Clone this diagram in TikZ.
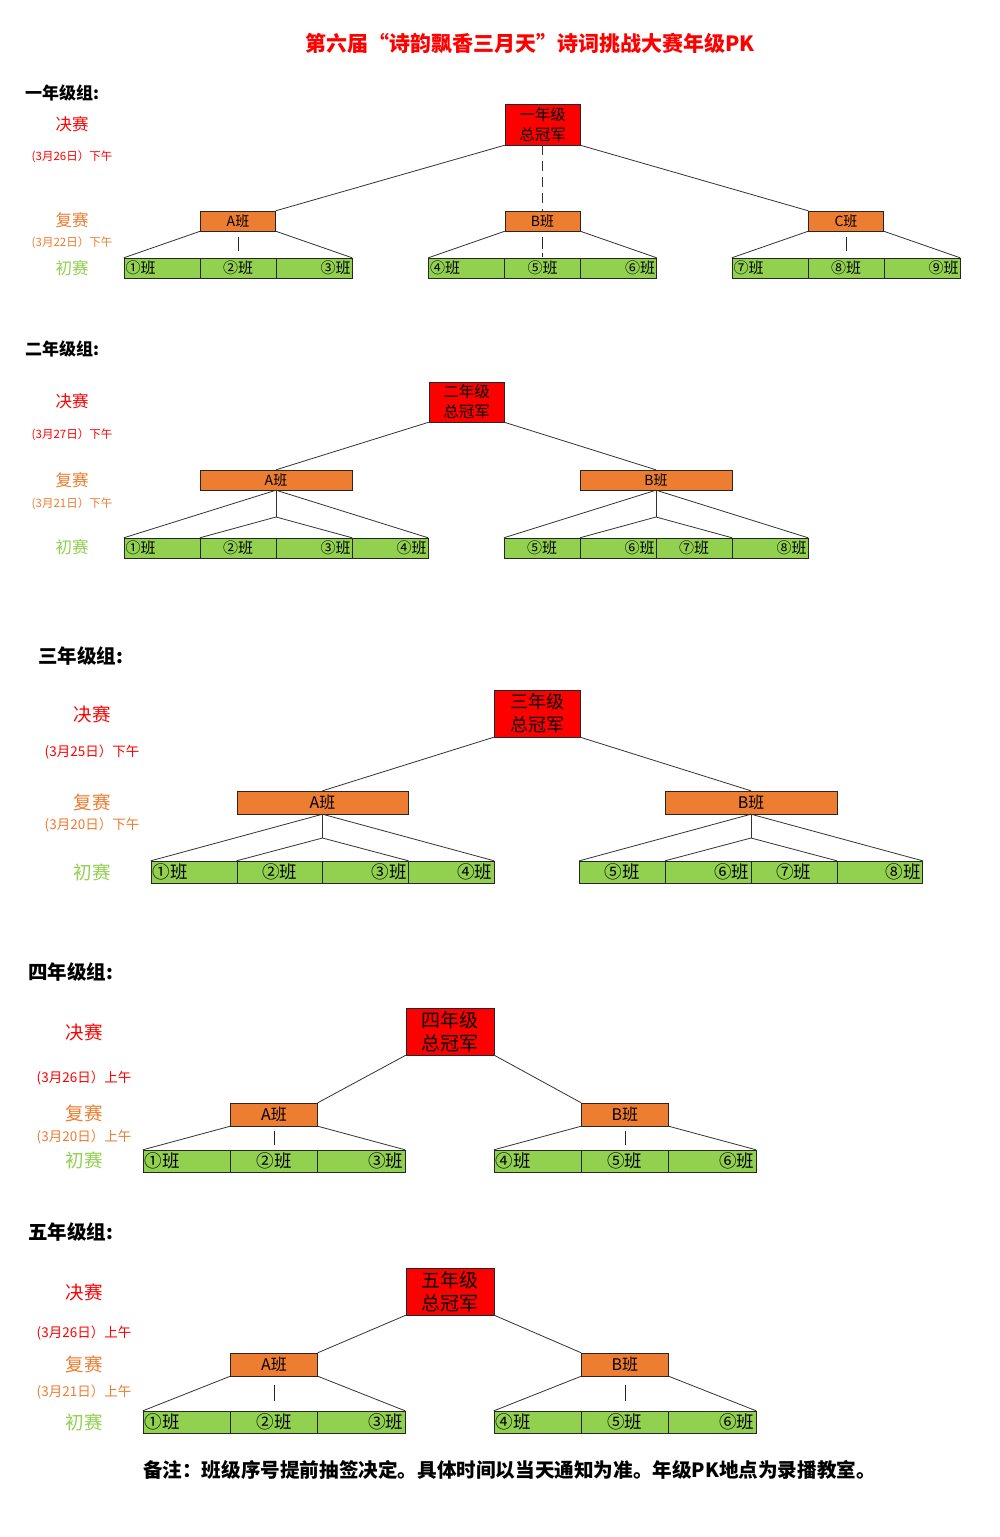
\documentclass[tikz,border=0pt]{standalone}
\usepackage{fontspec}
\setmainfont{Noto Sans CJK SC}
\definecolor{boxred}{HTML}{FF0000}
\definecolor{boxorange}{HTML}{ED7D31}
\definecolor{boxgreen}{HTML}{92D050}
\tikzset{
	sz/.style={font=\fontsize{#1}{#1}\selectfont},
	csz/.style 2 args={font=\fontsize{#1}{#2}\selectfont},
	title/.style={text=boxred, font=\bfseries\fontsize{21}{21}\selectfont, inner sep=0pt},
	grade/.style={anchor=west, font=\bfseries\fontsize{#1}{#1}\selectfont, inner sep=0pt},
	stagelbl/.style 2 args={text=#1, font=\fontsize{#2}{#2}\selectfont, inner sep=0pt},
	champ/.style={draw=black!85, fill=boxred, inner sep=0pt, align=center},
	semi/.style={draw=black!85, fill=boxorange, inner sep=0pt},
	cell/.style 2 args={draw=black!85, fill=boxgreen, inner ysep=0pt, inner xsep=1.5pt, text width=#1, align=#2},
	link/.style={line width=0.8pt, black!80},
	tick/.style={line width=0.8pt, black!85},
}
\begin{document}
\begin{tikzpicture}[x=1pt,y=-1pt]
	\useasboundingbox[fill=white] (0,0) rectangle (1000,1537);

	\node[title] (title) at (530,44) {第六届“诗韵飘香三月天”诗词挑战大赛年级PK};

	\node[grade=17] (g1name) at (25,93) {一年级组:};
	\node[stagelbl={boxred}{16.5}] (g1fin) at (72,124) {决赛};
	\node[stagelbl={boxred}{11.5}] (g1findate) at (72,157) {(3月26日）下午};
	\node[stagelbl={boxorange}{16.5}] (g1semi) at (72,220) {复赛};
	\node[stagelbl={boxorange}{11.5}] (g1semidate) at (72,243) {(3月22日）下午};
	\node[stagelbl={boxgreen}{16.5}] (g1first) at (72,268) {初赛};

	\node[champ, minimum width=75, minimum height=41, csz={15.5}{20}] (g1champ) at (542.5,124.5) {一年级\\总冠军};
	\node[semi, minimum width=75, minimum height=20, sz=14] (g1a) at (238,221) {A班};
	\node[semi, minimum width=75, minimum height=20, sz=14] (g1b) at (542.5,221) {B班};
	\node[semi, minimum width=75, minimum height=20, sz=14] (g1c) at (846,221) {C班};

	\node[cell={73}{left}, minimum height=20, sz=15] (g1c1) at (162,268) {①班};
	\node[cell={73}{center}, minimum height=20, sz=15] (g1c2) at (238,268) {②班};
	\node[cell={73}{right}, minimum height=20, sz=15] (g1c3) at (314,268) {③班};
	\node[cell={73}{left}, minimum height=20, sz=15] (g1c4) at (466.5,268) {④班};
	\node[cell={73}{center}, minimum height=20, sz=15] (g1c5) at (542.5,268) {⑤班};
	\node[cell={73}{right}, minimum height=20, sz=15] (g1c6) at (618.5,268) {⑥班};
	\node[cell={73}{left}, minimum height=20, sz=15] (g1c7) at (770,268) {⑦班};
	\node[cell={73}{center}, minimum height=20, sz=15] (g1c8) at (846,268) {⑧班};
	\node[cell={73}{right}, minimum height=20, sz=15] (g1c9) at (922,268) {⑨班};

	\draw[link] (g1champ.south west) -- (g1a.north east);
	\draw[link, dash pattern=on 10pt off 6pt] (g1champ.south) -- (g1b.north);
	\draw[link] (g1champ.south east) -- (g1c.north west);
	\draw[link] (g1a.south west) -- (g1c1.north west);
	\draw[link] (g1a.south east) -- (g1c3.north east);
	\draw[tick] ([yshift=-6pt]g1a.south) -- ([yshift=7pt]g1c2.north);
	\draw[link] (g1b.south west) -- (g1c4.north west);
	\draw[link] (g1b.south east) -- (g1c6.north east);
	\draw[tick, dash pattern=on 12pt off 4pt] ([yshift=-6pt]g1b.south) -- ([yshift=1pt]g1c5.north);
	\draw[link] (g1c.south west) -- (g1c7.north west);
	\draw[link] (g1c.south east) -- (g1c9.north east);
	\draw[tick] ([yshift=-6pt]g1c.south) -- ([yshift=7pt]g1c8.north);

	\node[grade=17] (g2name) at (25,349) {二年级组:};
	\node[stagelbl={boxred}{16.5}] (g2fin) at (72,401) {决赛};
	\node[stagelbl={boxred}{11.5}] (g2findate) at (72,435) {(3月27日）下午};
	\node[stagelbl={boxorange}{16.5}] (g2semi) at (72,480) {复赛};
	\node[stagelbl={boxorange}{11.5}] (g2semidate) at (72,504) {(3月21日）下午};
	\node[stagelbl={boxgreen}{16.5}] (g2first) at (72,547) {初赛};

	\node[champ, minimum width=75, minimum height=40, csz={15.5}{20}] (g2champ) at (466.5,402) {二年级\\总冠军};
	\node[semi, minimum width=152, minimum height=20, sz=14] (g2a) at (276,480) {A班};
	\node[semi, minimum width=152, minimum height=20, sz=14] (g2b) at (656,480) {B班};

	\node[cell={73}{left}, minimum height=20, sz=15] (g2c1) at (162,548) {①班};
	\node[cell={73}{center}, minimum height=20, sz=15] (g2c2) at (238,548) {②班};
	\node[cell={73}{right}, minimum height=20, sz=15] (g2c3) at (314,548) {③班};
	\node[cell={73}{right}, minimum height=20, sz=15] (g2c4) at (390,548) {④班};
	\node[cell={73}{center}, minimum height=20, sz=15] (g2c5) at (542,548) {⑤班};
	\node[cell={73}{right}, minimum height=20, sz=15] (g2c6) at (618,548) {⑥班};
	\node[cell={73}{center}, minimum height=20, sz=15] (g2c7) at (694,548) {⑦班};
	\node[cell={73}{right}, minimum height=20, sz=15] (g2c8) at (770,548) {⑧班};

	\coordinate (g2aj) at (276,517);
	\coordinate (g2bj) at (656,517);
	\draw[link] (g2champ.south west) -- (g2a.north);
	\draw[link] (g2champ.south east) -- (g2b.north);
	\draw[link] (g2a.south) -- (g2c1.north west);
	\draw[link] (g2a.south) -- (g2c4.north east);
	\draw[link] (g2a.south) -- (g2aj);
	\draw[link] (g2aj) -- (g2c2.north west);
	\draw[link] (g2aj) -- (g2c3.north east);
	\draw[link] (g2b.south) -- (g2c5.north west);
	\draw[link] (g2b.south) -- (g2c8.north east);
	\draw[link] (g2b.south) -- (g2bj);
	\draw[link] (g2bj) -- (g2c6.north west);
	\draw[link] (g2bj) -- (g2c7.north east);

	\node[grade=19.5] (g3name) at (38,656) {三年级组:};
	\node[stagelbl={boxred}{18.5}] (g3fin) at (92,714) {决赛};
	\node[stagelbl={boxred}{13.5}] (g3findate) at (92,752) {(3月25日）下午};
	\node[stagelbl={boxorange}{18.5}] (g3semi) at (92,802) {复赛};
	\node[stagelbl={boxorange}{13.5}] (g3semidate) at (92,825) {(3月20日）下午};
	\node[stagelbl={boxgreen}{18.5}] (g3first) at (92,872) {初赛};

	\node[champ, minimum width=86, minimum height=47, csz={18}{23}] (g3champ) at (537,713.5) {三年级\\总冠军};
	\node[semi, minimum width=171.5, minimum height=23, sz=16] (g3a) at (322.5,802.5) {A班};
	\node[semi, minimum width=171.5, minimum height=23, sz=16] (g3b) at (751,802.5) {B班};

	\node[cell={82.75}{left}, minimum height=22, sz=17.5] (g3c1) at (193.9,872) {①班};
	\node[cell={82.75}{center}, minimum height=22, sz=17.5] (g3c2) at (279.6,872) {②班};
	\node[cell={82.75}{right}, minimum height=22, sz=17.5] (g3c3) at (365.4,872) {③班};
	\node[cell={82.75}{right}, minimum height=22, sz=17.5] (g3c4) at (451.1,872) {④班};
	\node[cell={82.75}{center}, minimum height=22, sz=17.5] (g3c5) at (622.4,872) {⑤班};
	\node[cell={82.75}{right}, minimum height=22, sz=17.5] (g3c6) at (708.1,872) {⑥班};
	\node[cell={82.75}{center}, minimum height=22, sz=17.5] (g3c7) at (793.9,872) {⑦班};
	\node[cell={82.75}{right}, minimum height=22, sz=17.5] (g3c8) at (879.6,872) {⑧班};

	\coordinate (g3aj) at (322.5,838);
	\coordinate (g3bj) at (751,838);
	\draw[link] (g3champ.south west) -- (g3a.north);
	\draw[link] (g3champ.south east) -- (g3b.north);
	\draw[link] (g3a.south) -- (g3c1.north west);
	\draw[link] (g3a.south) -- (g3c4.north east);
	\draw[link] (g3a.south) -- (g3aj);
	\draw[link] (g3aj) -- (g3c2.north west);
	\draw[link] (g3aj) -- (g3c3.north east);
	\draw[link] (g3b.south) -- (g3c5.north west);
	\draw[link] (g3b.south) -- (g3c8.north east);
	\draw[link] (g3b.south) -- (g3bj);
	\draw[link] (g3bj) -- (g3c6.north west);
	\draw[link] (g3bj) -- (g3c7.north east);

	\node[grade=19.5] (g4name) at (28,972) {四年级组:};
	\node[stagelbl={boxred}{18.5}] (g4fin) at (84,1032) {决赛};
	\node[stagelbl={boxred}{13.5}] (g4findate) at (84,1078) {(3月26日）上午};
	\node[stagelbl={boxorange}{18.5}] (g4semi) at (84,1113) {复赛};
	\node[stagelbl={boxorange}{13.5}] (g4semidate) at (84,1137) {(3月20日）上午};
	\node[stagelbl={boxgreen}{18.5}] (g4first) at (84,1160) {初赛};

	\node[champ, minimum width=88, minimum height=47, csz={19}{23}] (g4champ) at (450,1031.5) {四年级\\总冠军};
	\node[semi, minimum width=87, minimum height=23, sz=16] (g4a) at (274,1114.5) {A班};
	\node[semi, minimum width=87, minimum height=23, sz=16] (g4b) at (624.9,1114.5) {B班};

	\node[cell={84.3}{left}, minimum height=22, sz=17.5] (g4c1) at (186.7,1161) {①班};
	\node[cell={84.3}{center}, minimum height=22, sz=17.5] (g4c2) at (274,1161) {②班};
	\node[cell={84.3}{right}, minimum height=22, sz=17.5] (g4c3) at (361.3,1161) {③班};
	\node[cell={84.3}{left}, minimum height=22, sz=17.5] (g4c4) at (537.7,1161) {④班};
	\node[cell={84.3}{center}, minimum height=22, sz=17.5] (g4c5) at (624.9,1161) {⑤班};
	\node[cell={84.3}{right}, minimum height=22, sz=17.5] (g4c6) at (712.3,1161) {⑥班};

	\draw[link] (g4champ.south west) -- (g4a.north east);
	\draw[link] (g4champ.south east) -- (g4b.north west);
	\draw[link] (g4a.south west) -- (g4c1.north west);
	\draw[link] (g4a.south east) -- (g4c3.north east);
	\draw[tick] ([yshift=-5pt]g4a.south) -- ([yshift=5pt]g4c2.north);
	\draw[link] (g4b.south west) -- (g4c4.north west);
	\draw[link] (g4b.south east) -- (g4c6.north east);
	\draw[tick] ([yshift=-5pt]g4b.south) -- ([yshift=5pt]g4c5.north);

	\node[grade=19.5] (g5name) at (28,1232) {五年级组:};
	\node[stagelbl={boxred}{18.5}] (g5fin) at (84,1292) {决赛};
	\node[stagelbl={boxred}{13.5}] (g5findate) at (84,1333) {(3月26日）上午};
	\node[stagelbl={boxorange}{18.5}] (g5semi) at (84,1364) {复赛};
	\node[stagelbl={boxorange}{13.5}] (g5semidate) at (84,1392) {(3月21日）上午};
	\node[stagelbl={boxgreen}{18.5}] (g5first) at (84,1422) {初赛};

	\node[champ, minimum width=88, minimum height=47, csz={19}{23}] (g5champ) at (450,1291.5) {五年级\\总冠军};
	\node[semi, minimum width=87, minimum height=23, sz=16] (g5a) at (274,1364.5) {A班};
	\node[semi, minimum width=87, minimum height=23, sz=16] (g5b) at (624.9,1364.5) {B班};

	\node[cell={84.3}{left}, minimum height=22, sz=17.5] (g5c1) at (186.7,1422) {①班};
	\node[cell={84.3}{center}, minimum height=22, sz=17.5] (g5c2) at (274,1422) {②班};
	\node[cell={84.3}{right}, minimum height=22, sz=17.5] (g5c3) at (361.3,1422) {③班};
	\node[cell={84.3}{left}, minimum height=22, sz=17.5] (g5c4) at (537.7,1422) {④班};
	\node[cell={84.3}{center}, minimum height=22, sz=17.5] (g5c5) at (624.9,1422) {⑤班};
	\node[cell={84.3}{right}, minimum height=22, sz=17.5] (g5c6) at (712.3,1422) {⑥班};

	\draw[link] (g5champ.south west) -- (g5a.north east);
	\draw[link] (g5champ.south east) -- (g5b.north west);
	\draw[link] (g5a.south west) -- (g5c1.north west);
	\draw[link] (g5a.south east) -- (g5c3.north east);
	\draw[tick] ([yshift=-9pt]g5a.south) -- ([yshift=10pt]g5c2.north);
	\draw[link] (g5b.south west) -- (g5c4.north west);
	\draw[link] (g5b.south east) -- (g5c6.north east);
	\draw[tick] ([yshift=-9pt]g5b.south) -- ([yshift=10pt]g5c5.north);

	\node[font=\bfseries\fontsize{19.6}{19.6}\selectfont, inner sep=0pt] (note) at (509.5,1470) {备注：班级序号提前抽签决定。具体时间以当天通知为准。年级PK地点为录播教室。};
\end{tikzpicture}
\end{document}
